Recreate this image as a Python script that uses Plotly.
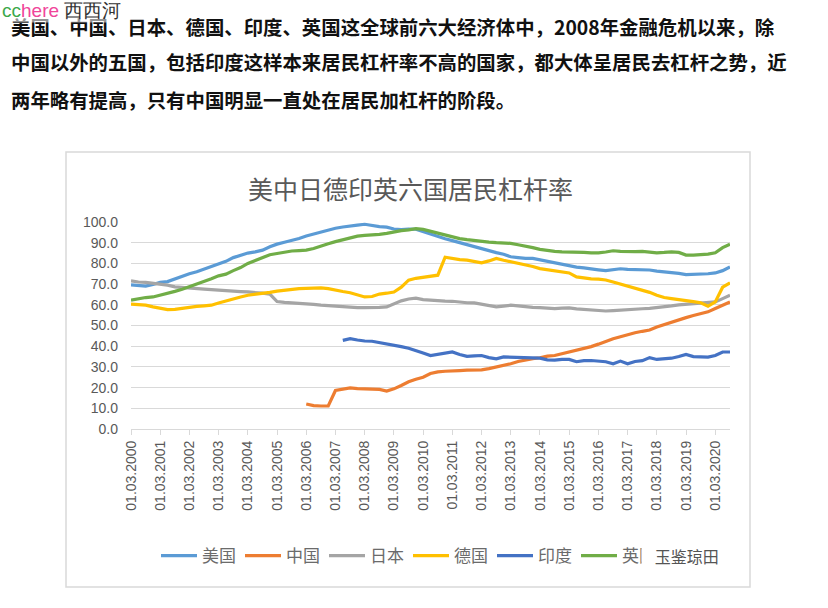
import plotly.graph_objects as go
import pandas as pd

# ---------------- data (quarterly, 2000Q1 .. 2020Q3) ----------------
quarters = pd.date_range("2000-03-01", "2020-09-01", freq="3MS")

us = [69.6, 69.3, 69.0, 69.8,
      70.8, 71.2, 72.6, 74.0,
      75.0, 76.0, 77.3, 78.5,
      80.0, 81.0, 82.8, 84.0,
      85.0, 85.6, 86.4, 88.0,
      89.3, 90.2, 91.0, 92.0,
      93.2, 94.2, 95.0, 96.0,
      97.0, 97.6, 98.2, 98.5,
      98.9, 98.3, 97.8, 97.5,
      96.6, 96.3, 96.6, 96.5,
      95.3, 94.0, 92.8, 91.9,
      91.0, 90.0, 88.9, 88.0,
      87.0, 86.0, 85.2, 84.4,
      83.2, 82.8, 82.4, 82.4,
      81.7, 81.0, 80.2, 79.5,
      78.6, 78.2, 77.8, 77.2,
      76.9, 76.5, 76.8, 77.4,
      77.1, 77.0, 77.0, 76.8,
      76.3, 76.0, 75.6, 75.2,
      74.6, 74.7, 74.8, 75.0,
      75.4, 76.5, 78.3]

china = [None] * 24 + [
      12.1, 11.3, 11.1, 11.1,
      18.6, 19.2, 19.9, 19.5,
      19.4, 19.2, 19.1, 18.3,
      19.4, 21.0, 22.8, 24.0,
      25.0, 26.8, 27.6, 27.9,
      27.9, 28.2, 28.4, 28.5,
      28.6, 29.2, 29.9, 30.8,
      31.5, 32.6, 33.5, 34.0,
      34.4, 35.2, 35.5, 36.3,
      37.2, 38.0, 38.8, 39.8,
      41.0, 42.5, 43.6, 44.6,
      45.7, 46.5, 47.2, 47.8,
      49.3, 50.5, 51.7, 52.7,
      53.8, 54.8, 55.6, 56.6,
      58.2, 60.0, 61.4]

japan = [71.6, 71.0, 70.8, 70.4,
      70.0, 69.5, 68.7, 68.5,
      68.2, 67.9, 67.6, 67.3,
      67.0, 66.8, 66.5, 66.4,
      66.2, 66.0, 65.6, 65.2,
      61.6, 61.2, 61.0, 60.8,
      60.6, 60.2, 59.8, 59.5,
      59.3, 59.0, 58.8, 58.6,
      58.6, 58.6, 58.8, 59.0,
      60.5, 61.9, 62.8, 63.2,
      62.5, 62.2, 62.0, 61.8,
      61.7, 61.3, 61.0, 60.9,
      60.3, 59.7, 59.0, 59.4,
      59.8, 59.5, 59.0, 58.8,
      58.6, 58.4, 58.2, 58.4,
      58.5, 58.0, 57.7, 57.3,
      57.0, 57.0, 57.2, 57.5,
      57.7, 57.9, 58.1, 58.3,
      58.6, 59.0, 59.5, 60.0,
      60.3, 60.5, 60.6, 61.0,
      61.4, 63.0, 64.6]

germany = [60.3, 60.0, 59.8, 59.0,
      58.3, 57.7, 57.8, 58.3,
      59.0, 59.2, 59.5, 59.8,
      60.9, 62.0, 63.0, 63.8,
      64.6, 65.0, 65.4, 66.0,
      66.6, 67.0, 67.5, 67.8,
      67.9, 68.1, 68.2, 67.8,
      67.0, 66.4, 65.8, 64.8,
      63.8, 64.0, 65.2, 65.6,
      66.2, 68.5, 71.9, 72.8,
      73.4, 73.8, 74.3, 83.0,
      82.4, 81.8, 81.6, 81.0,
      80.3, 81.2, 82.4, 81.5,
      80.8, 80.2, 79.2, 78.5,
      77.5, 77.0, 76.4, 75.9,
      75.4, 73.5, 72.8, 72.5,
      72.4, 72.0, 71.0, 70.0,
      68.9, 68.0, 67.0, 66.0,
      64.6, 63.5, 63.0, 62.4,
      61.9, 61.5, 61.0, 59.3,
      61.4, 68.5, 70.6]

india = [None] * 29 + [
      42.8, 43.6, 43.0,
      42.5, 42.4, 41.8, 41.3,
      40.4, 39.8, 39.0, 38.0,
      36.7, 35.5, 36.2, 36.8,
      37.2, 36.0, 35.1, 35.3,
      35.5, 34.5, 33.9, 34.8,
      34.7, 34.8, 34.7, 34.5,
      34.2, 33.4, 33.3, 33.6,
      33.6, 32.5, 33.0, 33.1,
      32.8, 32.5, 31.5, 32.8,
      31.5, 32.6, 33.0, 34.5,
      33.6, 33.8, 34.2, 35.0,
      36.0, 35.0, 34.7, 34.7,
      35.5, 37.2, 37.2]

uk = [62.2, 63.0, 63.5, 63.8,
      64.6, 65.5, 66.5, 67.5,
      68.7, 70.0, 71.5, 72.6,
      74.0, 74.8, 76.5, 78.0,
      80.0, 81.5, 83.0, 84.2,
      84.8, 85.5, 86.0, 86.2,
      86.4, 87.2, 88.5, 89.5,
      90.5, 91.5, 92.6, 93.2,
      93.5, 93.6, 94.0, 94.5,
      95.3, 95.8, 96.2, 96.8,
      96.4, 95.5, 94.5, 93.7,
      92.9, 92.0, 91.5, 91.0,
      90.5, 90.3, 90.0, 89.8,
      89.7, 89.0, 88.4, 87.6,
      86.8, 86.2, 85.8, 85.6,
      85.6, 85.3, 85.3, 85.1,
      85.1, 85.5, 86.1, 85.8,
      85.6, 85.7, 85.8, 85.6,
      85.1, 85.3, 85.6, 85.3,
      84.0, 84.0, 84.1, 84.5,
      85.1, 87.6, 89.3]

series_names = ["美国", "中国", "日本", "德国", "印度", "英国"]
series_values = [us, china, japan, germany, india, uk]
series_colors = ["#5B9BD5", "#ED7D31", "#A5A5A5", "#FFC000", "#4472C4", "#70AD47"]

tick_years = list(range(2000, 2021))
tick_vals = [f"{y}-03-01" for y in tick_years]
tick_text = [f"01.03.{y}" for y in tick_years]

title_text = "美中日德印英六国居民杠杆率"
para_lines = [
    "美国、中国、日本、德国、印度、英国这全球前六大经济体中，2008年金融危机以来，除",
    "中国以外的五国，包括印度这样本来居民杠杆率不高的国家，都大体呈居民去杠杆之势，近",
    "两年略有提高，只有中国明显一直处在居民加杠杆的阶段。",
]

# ---------------- layout geometry (pixels) ----------------
W, H = 828, 608
L, R, T, B = 131, 730, 222, 429


def px_x(px):
    return (px - L) / (R - L)


def px_y(py):
    return (B - py) / (B - T)


fig = go.Figure()
for name, vals, col in zip(series_names, series_values, series_colors):
    fig.add_trace(go.Scatter(
        x=quarters, y=vals, name=name, mode="lines",
        line=dict(color=col, width=3.2), connectgaps=False,
    ))

grey = "#595959"
fig.update_layout(
    width=W, height=H,
    margin=dict(l=L, r=W - R, t=T, b=H - B, autoexpand=False),
    paper_bgcolor="white", plot_bgcolor="white",
    showlegend=True,
    legend=dict(
        orientation="h", x=px_x(156), y=px_y(556), xanchor="left", yanchor="middle",
        font=dict(family="Noto Sans CJK SC", size=17, color="#6b6b6b"),
        entrywidth=33, entrywidthmode="pixels", itemwidth=36,
        bgcolor="rgba(0,0,0,0)",
    ),
    xaxis=dict(
        type="date",
        range=["2000-03-01", "2020-09-01"],
        tickmode="array", tickvals=tick_vals, ticktext=tick_text,
        tickangle=-90,
        tickfont=dict(family="Liberation Sans", size=14, color=grey),
        ticks="outside", ticklen=5, tickcolor="#D9D9D9",
        showline=True, linecolor="#D9D9D9", linewidth=1,
        showgrid=False, zeroline=False,
    ),
    yaxis=dict(
        range=[0, 100],
        tickmode="array", tickvals=list(range(0, 101, 10)),
        tickformat=".1f",
        tickfont=dict(family="Liberation Sans", size=14, color=grey),
        showgrid=True, gridcolor="#D9D9D9", gridwidth=1,
        zeroline=False, showline=False, ticks="", ticklabelstandoff=12,
    ),
)

# chart frame
fig.add_shape(type="rect", xref="paper", yref="paper",
              x0=px_x(66), x1=px_x(750), y0=px_y(587), y1=px_y(152),
              line=dict(color="#D9D9D9", width=1.5), fillcolor="rgba(0,0,0,0)", layer="below")

# chart title
fig.add_annotation(xref="paper", yref="paper", x=px_x(410), y=px_y(188),
                   text=title_text, showarrow=False, xanchor="center", yanchor="middle",
                   font=dict(family="Noto Sans CJK SC", size=25, color=grey))

# paragraph text
for line, py in zip(para_lines, [26, 62, 99]):
    fig.add_annotation(xref="paper", yref="paper", x=px_x(9), y=px_y(py),
                       text=f"<b>{line}</b>", showarrow=False, xanchor="left", yanchor="middle",
                       font=dict(family="Noto Sans CJK SC", size=19.4, color="#111111"))

# site watermark at the top-left
fig.add_annotation(xref="paper", yref="paper", x=px_x(0), y=px_y(11),
                   text="<span style='color:#3AA84A'>cc</span><span style='color:#F0459A'>here</span> <span style='color:#333333'>西西河</span>",
                   showarrow=False, xanchor="left", yanchor="middle",
                   bgcolor="rgba(255,255,255,0.55)",
                   font=dict(family="Liberation Sans", size=19), borderpad=1)

# wechat watermark near legend
fig.add_annotation(xref="paper", yref="paper", x=px_x(641), y=px_y(556),
                   text="   玉鉴琼田", showarrow=False, xanchor="left", yanchor="middle",
                   bgcolor="white", borderpad=2,
                   font=dict(family="Noto Sans CJK SC", size=16, color="#555555"))

fig.write_html("out.html", config={"displayModeBar": False},
               post_script="document.body.style.margin='0';")
